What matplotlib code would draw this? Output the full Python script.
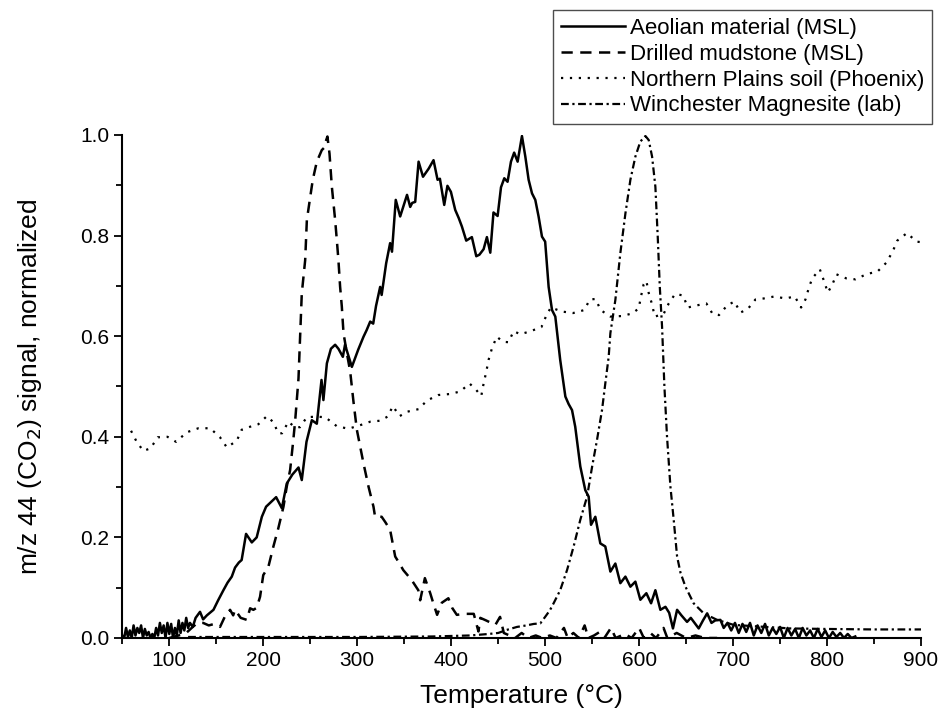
import matplotlib
matplotlib.use("Agg")
import matplotlib.pyplot as plt

plt.rcParams['font.family'] = ['Liberation Sans', 'DejaVu Sans']

# Aeolian material (MSL) - solid
aeol_T = [50, 52, 54, 56, 58, 60, 62, 64, 66, 68, 70, 72, 74, 76, 78, 80, 82, 84, 86, 88,
          90, 92, 94, 96, 98, 100, 102, 104, 106, 108, 110, 112, 114, 116, 118, 120, 122, 125,
          128, 132.7, 136, 140, 147, 152, 157.6, 162, 166.5, 170, 174, 177, 181.7, 187.8, 193,
          198.5, 203, 208, 213.7, 219.8, 225, 231, 237.5, 241, 246, 251.7, 257, 262, 264, 267.7,
          272, 276.5, 280, 284.7, 287, 290, 294.3, 301, 306.7, 310, 313.8, 317, 320, 324.4, 326,
          330.8, 335, 337, 341, 345.7, 353, 356.4, 358.5, 361.7, 365.3, 370, 376, 381.2, 385.5,
          388, 392.6, 396, 399.7, 404.3, 408, 411.4, 416, 422, 426.7, 430, 434.5, 438, 441.6,
          445, 449.4, 453, 456.5, 460, 463.6, 467, 470.7, 475.3, 478.9, 482.4, 486, 489.5, 493,
          496.6, 500, 503.7, 507.3, 510.8, 516, 521.5, 525, 528.6, 532, 537.4, 542.7, 546.3,
          548.8, 553.4, 558.7, 564, 569.4, 574.7, 580, 585.4, 590.7, 596, 601.3, 607.7, 612.7,
          617.3, 622.6, 628, 632, 636, 640.4, 645, 651, 655, 659, 663.4, 668, 672.4, 677, 681,
          686.5, 690, 694, 698, 702, 706, 710, 714, 718, 722, 726, 730, 734, 738, 742, 746, 750,
          754, 758, 762, 766, 770, 774, 778, 782, 786, 790, 794, 798, 802, 806, 810, 814, 818,
          822, 826, 830]
aeol_v = [0.005, 0.0, 0.02, 0.002, 0.015, 0.0, 0.025, 0.005, 0.02, 0.01, 0.025, 0.0, 0.018,
          0.005, 0.012, 0.0, 0.008, 0.0, 0.02, 0.005, 0.03, 0.01, 0.025, 0.0, 0.03, 0.008, 0.028,
          0.0, 0.02, 0.005, 0.035, 0.01, 0.03, 0.015, 0.04, 0.02, 0.03, 0.022, 0.04, 0.052, 0.037,
          0.045, 0.056, 0.075, 0.095, 0.11, 0.122, 0.14, 0.15, 0.155, 0.207, 0.19, 0.20, 0.241,
          0.261, 0.27, 0.28, 0.258, 0.307, 0.325, 0.339, 0.314, 0.39, 0.433, 0.426, 0.513, 0.473,
          0.546, 0.575, 0.583, 0.575, 0.559, 0.583, 0.565, 0.539, 0.573, 0.599, 0.612, 0.629,
          0.625, 0.66, 0.698, 0.682, 0.745, 0.785, 0.768, 0.871, 0.838, 0.881, 0.857, 0.865,
          0.867, 0.947, 0.917, 0.933, 0.950, 0.911, 0.913, 0.861, 0.899, 0.887, 0.851, 0.835,
          0.818, 0.790, 0.797, 0.759, 0.762, 0.773, 0.797, 0.766, 0.846, 0.839, 0.896, 0.914,
          0.907, 0.947, 0.965, 0.947, 0.998, 0.957, 0.911, 0.884, 0.871, 0.838, 0.798, 0.788,
          0.698, 0.652, 0.639, 0.553, 0.48, 0.465, 0.453, 0.42, 0.341, 0.294, 0.281, 0.225,
          0.241, 0.188, 0.182, 0.132, 0.148, 0.109, 0.122, 0.102, 0.112, 0.076, 0.089, 0.069,
          0.095, 0.056, 0.062, 0.05, 0.019, 0.056, 0.045, 0.032, 0.04, 0.03, 0.019, 0.035, 0.049,
          0.03, 0.035, 0.036, 0.02, 0.03, 0.015, 0.03, 0.01, 0.028, 0.012, 0.03, 0.005, 0.025,
          0.01, 0.028, 0.005, 0.02, 0.008, 0.022, 0.0, 0.02, 0.005, 0.018, 0.0, 0.02, 0.005,
          0.015, 0.0, 0.018, 0.002, 0.015, 0.0, 0.012, 0.002, 0.01, 0.0, 0.008, 0.0, 0.003]

# Drilled mudstone (MSL) - dashed
mud_T = [100, 110, 118, 125, 130, 136, 142, 148, 154, 159, 164.7, 168, 170, 176, 182.5, 186,
         189.5, 193, 196.6, 200, 205.5, 210.8, 216, 221.5, 225, 228.6, 232, 234, 237.5, 241,
         244.6, 246.4, 250, 252.7, 257, 262.3, 265, 267, 268.3, 270.5, 273, 276.5, 278.3, 280,
         281.8, 283.6, 285.4, 289, 292.5, 296, 299.6, 306.7, 312, 317.3, 319, 326, 330, 335,
         340.4, 345, 349, 358, 365, 367, 372, 377.7, 381, 385, 390, 397, 401, 406, 413, 424,
         429, 431, 437, 447, 452, 456, 462, 468, 475, 482, 490, 497, 505, 512, 520, 524, 530,
         536, 542, 546, 552, 558, 563, 570, 575, 585, 592, 600, 605, 612, 618, 626, 630, 640,
         650, 660, 670, 683]
mud_v = [0.0, 0.005, 0.01, 0.022, 0.03, 0.03, 0.025, 0.028, 0.022, 0.042, 0.056, 0.045, 0.056,
         0.04, 0.036, 0.059, 0.056, 0.06, 0.082, 0.125, 0.142, 0.182, 0.218, 0.261, 0.301, 0.334,
         0.394, 0.433, 0.516, 0.685, 0.751, 0.831, 0.877, 0.911, 0.947, 0.970, 0.975, 0.990,
         0.997, 0.963, 0.897, 0.831, 0.791, 0.751, 0.698, 0.659, 0.606, 0.566, 0.530, 0.47,
         0.414, 0.347, 0.301, 0.261, 0.241, 0.241, 0.23, 0.215, 0.162, 0.148, 0.135, 0.115,
         0.095, 0.075, 0.119, 0.089, 0.069, 0.046, 0.07, 0.079, 0.06, 0.046, 0.048, 0.048,
         0.013, 0.04, 0.035, 0.026, 0.042, 0.01, 0.005, 0.0, 0.01, 0.0, 0.005, 0.0, 0.005, 0.0,
         0.02, 0.0, 0.01, 0.0, 0.025, 0.0, 0.005, 0.012, 0.0, 0.02, 0.0, 0.008, 0.0, 0.02, 0.0,
         0.01, 0.0, 0.02, 0.0, 0.01, 0.0, 0.005, 0.0, 0.0]

# Northern Plains soil (Phoenix) - dotted
phx_T = [59.3, 65.3, 72.4, 80, 87.7, 98, 107.2, 118.6, 131, 143.5, 154, 161.2, 171.8, 177, 186,
         194.8, 203.8, 210.8, 216, 220, 226.8, 233, 239, 246.4, 256, 266, 278.3, 290.7, 303,
         313.8, 324.4, 332.2, 338, 345, 353.5, 365.3, 374.2, 386, 398.3, 409.6, 419.5, 426.7,
         432, 434.5, 437.3, 439.8, 443.4, 448.5, 455, 461, 466.4, 473.5, 483, 496, 501, 506,
         518, 529.7, 541.7, 547.5, 553.7, 559, 569.4, 580.8, 592.5, 599.5, 602, 604.8, 607.7,
         610.2, 613.8, 616.6, 626, 631.5, 638.3, 646.8, 651.7, 660.6, 671.6, 678.3, 685, 693.6,
         701.4, 707.8, 715.6, 723.8, 732.6, 744, 755.7, 765.6, 772.4, 777, 780.6, 784.2, 792.3,
         796.5, 800.8, 805.5, 810, 820.4, 830.3, 842.7, 853.4, 863, 870, 874.7, 885, 895.3, 900]
phx_v = [0.412, 0.39, 0.372, 0.377, 0.399, 0.40, 0.39, 0.409, 0.417, 0.417, 0.399, 0.379, 0.392,
         0.414, 0.42, 0.425, 0.441, 0.429, 0.407, 0.407, 0.43, 0.42, 0.419, 0.439, 0.44, 0.439,
         0.421, 0.416, 0.423, 0.43, 0.432, 0.44, 0.461, 0.441, 0.45, 0.455, 0.472, 0.483, 0.485,
         0.49, 0.506, 0.493, 0.481, 0.506, 0.529, 0.553, 0.576, 0.599, 0.589, 0.588, 0.61, 0.604,
         0.609, 0.618, 0.64, 0.657, 0.649, 0.646, 0.652, 0.673, 0.674, 0.652, 0.639, 0.64, 0.645,
         0.655, 0.679, 0.703, 0.71, 0.686, 0.663, 0.639, 0.644, 0.665, 0.684, 0.681, 0.657,
         0.661, 0.665, 0.644, 0.642, 0.661, 0.669, 0.647, 0.654, 0.673, 0.675, 0.679, 0.675,
         0.679, 0.657, 0.673, 0.696, 0.715, 0.733, 0.711, 0.687, 0.702, 0.723, 0.715, 0.713,
         0.724, 0.728, 0.746, 0.769, 0.79, 0.805, 0.788, 0.787]

# Winchester Magnesite (lab) - dash-dot
mag_T = [120, 200, 300, 380, 420, 440, 450, 459, 470, 480, 488, 494.8, 500, 505, 509, 516,
         523.3, 530.3, 537.4, 544.6, 550, 555.2, 560.5, 564, 567.6, 569.4, 574.7, 580, 585.4,
         590.7, 596, 601.3, 606.7, 610.2, 613.8, 617.3, 619.8, 622, 624.4, 626.9, 629.7, 633.3,
         636.8, 640.4, 644, 649.3, 658, 668.7, 683, 700.7, 726, 761, 797, 850, 900]
mag_v = [0.002, 0.002, 0.002, 0.003, 0.005, 0.008, 0.01, 0.016, 0.022, 0.025, 0.028, 0.029,
         0.042, 0.055, 0.069, 0.095, 0.135, 0.182, 0.235, 0.281, 0.341, 0.394, 0.453, 0.506,
         0.559, 0.606, 0.672, 0.765, 0.844, 0.911, 0.957, 0.987, 0.998, 0.990, 0.957, 0.897,
         0.798, 0.698, 0.619, 0.5, 0.4, 0.301, 0.235, 0.162, 0.13, 0.102, 0.069, 0.049, 0.036,
         0.026, 0.023, 0.019, 0.018, 0.017, 0.017]

labels = ['Aeolian material (MSL)', 'Drilled mudstone (MSL)',
          'Northern Plains soil (Phoenix)', 'Winchester Magnesite (lab)']

fig = plt.figure(figsize=(9.43, 7.2), dpi=100)
ax = fig.add_axes([0.1297, 0.1139, 0.8470, 0.6986])

ax.plot(aeol_T, aeol_v, color='black', lw=1.8, ls='-', label=labels[0])
ax.plot(mud_T, mud_v, color='black', lw=1.8, ls=(0, (4.5, 3)), label=labels[1])
ax.plot(phx_T, phx_v, color='black', lw=1.6, ls=(0, (1, 3)), label=labels[2])
ax.plot(mag_T, mag_v, color='black', lw=1.6, ls=(0, (3.5, 1.6, 1, 1.6)), label=labels[3])

ax.set_xlim(50, 900)
ax.set_ylim(0, 1.0)
ax.set_xticks([100, 200, 300, 400, 500, 600, 700, 800, 900])
ax.set_xticks(range(50, 901, 50), minor=True)
ax.set_yticks([0.0, 0.2, 0.4, 0.6, 0.8, 1.0])
ax.set_yticks([0.1, 0.3, 0.5, 0.7, 0.9], minor=True)
ax.set_yticklabels(['0.0', '0.2', '0.4', '0.6', '0.8', '1.0'])

for side in ['top', 'right']:
    ax.spines[side].set_visible(False)
for side in ['left', 'bottom']:
    ax.spines[side].set_linewidth(1.5)
ax.tick_params(which='major', direction='out', length=6, width=1.3, labelsize=15)
ax.tick_params(which='minor', direction='out', length=4, width=1.3)

ax.set_xlabel('Temperature (\u00b0C)', fontsize=19, labelpad=10)
ax.set_ylabel('m/z 44 (CO$_2$) signal, normalized', fontsize=19, labelpad=26)

leg = ax.legend(loc='upper right', bbox_to_anchor=(932 / 943, 1 - 10 / 720),
                bbox_transform=fig.transFigure, borderaxespad=0, fontsize=16,
                frameon=True, fancybox=False, edgecolor='0.3', framealpha=1,
                handlelength=2.9, handletextpad=0.2, labelspacing=0.22, borderpad=0.35)
leg.get_frame().set_linewidth(1.0)

fig.savefig('out.png', dpi=100)
